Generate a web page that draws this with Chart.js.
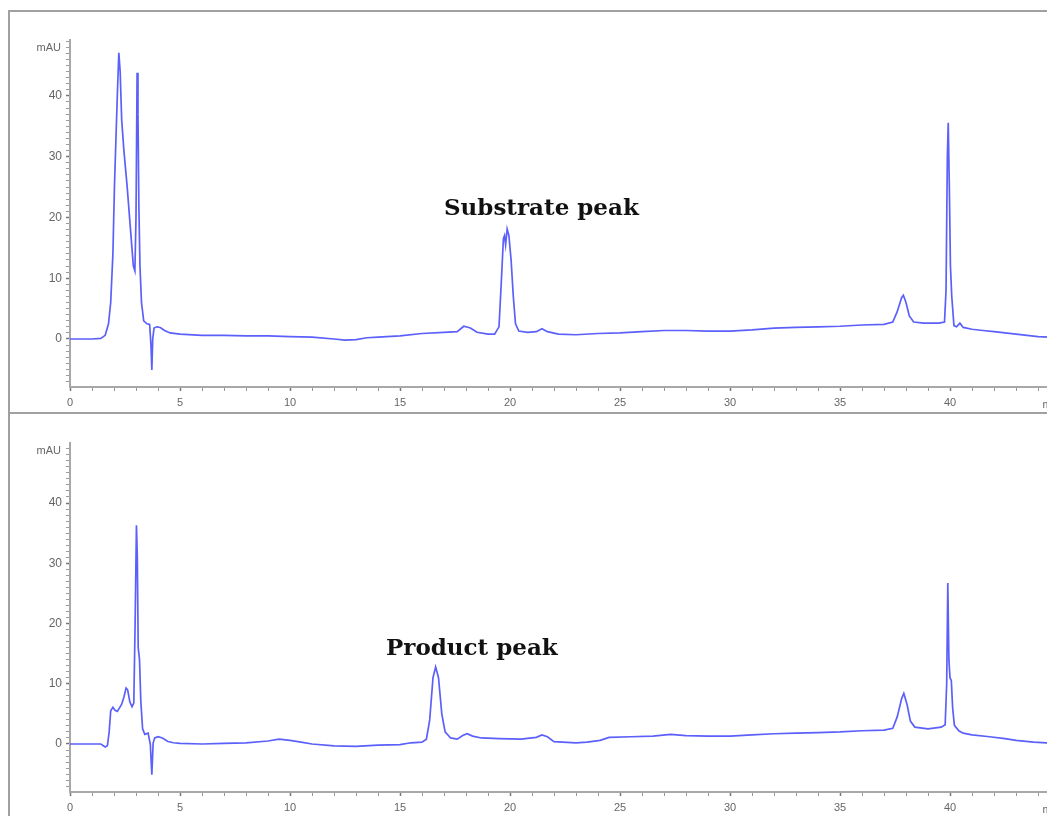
<!DOCTYPE html>
<html>
<head>
<meta charset="utf-8">
<script src="https://cdn.jsdelivr.net/npm/chart.js@4.4.1/dist/chart.umd.min.js"></script>
<style>
html,body{margin:0;padding:0;background:#fff;overflow:hidden;width:1047px;height:816px;}
#wrap{position:relative;width:1047px;height:816px;overflow:hidden;background:#fff;}
.frame{position:absolute;border:2px solid #a0a0a0;box-sizing:border-box;}
.cv{position:absolute;left:0;}
.note{position:absolute;font-family:"DejaVu Serif",serif;font-weight:bold;font-size:23px;line-height:23px;color:#111;white-space:nowrap;}
</style>
</head>
<body>
<div id="wrap">
  <div class="frame" style="left:8px;top:10px;width:1100px;height:404px;"></div>
  <div class="frame" style="left:8px;top:412px;width:1100px;height:500px;"></div>
  <div class="cv" style="top:0;"><canvas id="c1" width="1100" height="412"></canvas></div>
  <div class="cv" style="top:412px;"><canvas id="c2" width="1100" height="404"></canvas></div>
  <div class="note" style="left:444px;top:195px;">Substrate peak</div>
  <div class="note" style="left:386px;top:635px;">Product peak</div>
</div>
<script>
// ---- data (retention time in min, absorbance in mAU) ----
const topTime = [0,0.5,1.0,1.4,1.6,1.75,1.85,1.95,2.02,2.08,2.15,2.22,2.28,2.35,2.45,2.6,2.75,2.88,2.95,3.0,3.05,3.09,3.13,3.18,3.25,3.35,3.5,3.62,3.68,3.72,3.76,3.82,3.95,4.1,4.3,4.55,5.0,6.0,7.0,8.0,9.0,10.0,11.0,12.0,12.5,13.0,13.5,14.0,15.0,16.0,17.0,17.6,17.9,18.2,18.5,19.0,19.3,19.5,19.6,19.7,19.75,19.8,19.87,19.95,20.05,20.15,20.25,20.4,20.8,21.2,21.45,21.7,22.2,23.0,24.0,25.0,26.0,27.0,28.0,29.0,30.0,31.0,32.0,33.0,34.0,35.0,36.0,37.0,37.4,37.6,37.8,37.88,38.0,38.15,38.35,38.8,39.5,39.75,39.82,39.88,39.92,39.97,40.02,40.08,40.18,40.3,40.45,40.6,41.0,41.5,42.0,42.5,43.0,43.5,44.0,44.5,45.0];
const topSignal = [0,0,0,0.1,0.6,2.5,6,14,25,32,40,47.1,44,36,31,25,18,12,11.2,20,43.8,37,22,12,6,3,2.5,2.4,-1,-5.1,0,1.8,2.0,1.9,1.4,1.0,0.8,0.6,0.6,0.5,0.5,0.4,0.3,0.0,-0.2,-0.1,0.2,0.3,0.5,0.9,1.1,1.2,2.1,1.8,1.1,0.8,0.8,2,9,16.5,17.0,15.5,18.1,17,13,7,2.5,1.3,1.1,1.2,1.7,1.2,0.8,0.7,0.9,1.0,1.2,1.4,1.4,1.3,1.3,1.5,1.8,1.9,2.0,2.1,2.3,2.4,2.8,4.5,6.8,7.2,6.0,3.8,2.8,2.6,2.6,2.8,8,30,35.6,25,12,7,2.2,2.0,2.6,1.9,1.6,1.4,1.2,1.0,0.8,0.6,0.4,0.3,0.2];

const bottomTime = [0,1.0,1.4,1.6,1.7,1.78,1.85,1.95,2.05,2.15,2.25,2.35,2.45,2.55,2.62,2.72,2.82,2.9,2.96,3.02,3.06,3.1,3.16,3.22,3.3,3.4,3.55,3.65,3.72,3.78,3.85,4.0,4.2,4.45,4.7,5.0,6.0,7.0,8.0,9.0,9.5,10.0,10.5,11.0,12.0,13.0,14.0,15.0,15.5,16.0,16.2,16.35,16.5,16.62,16.75,16.9,17.05,17.3,17.6,17.85,18.05,18.3,18.7,19.5,20.5,21.2,21.45,21.7,22.0,23.0,23.5,24.1,24.5,25.5,26.5,27.3,28.0,29.0,30.0,31.0,32.0,33.0,34.0,35.0,36.0,37.0,37.4,37.6,37.8,37.9,38.05,38.2,38.4,39.0,39.6,39.78,39.85,39.9,39.95,40.0,40.06,40.12,40.2,40.4,40.6,41.0,41.8,42.5,43.0,43.8,44.4,45.0];
const bottomSignal = [0,0,0,-0.5,-0.3,2,5.5,6.1,5.6,5.4,6.0,6.6,7.8,9.3,9.0,7,6.2,6.8,20,36.3,31,16,14,7,2.5,1.6,1.8,0,-5.1,0.2,1.0,1.2,1.0,0.4,0.2,0.1,0.0,0.1,0.2,0.5,0.8,0.6,0.3,0.0,-0.3,-0.4,-0.2,-0.1,0.2,0.3,0.8,4,11,12.8,11,5,2,1.0,0.8,1.4,1.7,1.3,1.0,0.9,0.8,1.1,1.5,1.2,0.4,0.2,0.3,0.6,1.1,1.2,1.3,1.6,1.4,1.3,1.3,1.5,1.7,1.8,1.9,2.0,2.2,2.3,2.6,4.5,7.5,8.4,6.5,3.8,2.8,2.5,2.8,3.2,10,26.7,14,11,10.5,6,3.1,2.2,1.8,1.5,1.2,0.9,0.6,0.3,0.2,0.1];

const yUnit = 'mAU';
const xUnit = 'min';

// ---- chart helpers ----
const tickFont = {family: '"Liberation Sans", Arial, sans-serif', size: 11};
const lineColor = 'rgb(92,96,250)';

const unitLabels = {
  id: 'unitLabels',
  afterDraw(chart) {
    const ctx = chart.ctx, xs = chart.scales.x, ys = chart.scales.y;
    ctx.save();
    ctx.font = '11px "Liberation Sans", Arial, sans-serif';
    ctx.fillStyle = '#666';
    ctx.textAlign = 'right';
    ctx.textBaseline = 'middle';
    ctx.fillText(yUnit, ys.right - 9, chart.chartArea.top + 8);
    ctx.textAlign = 'left';
    ctx.textBaseline = 'top';
    ctx.fillText(xUnit, xs.getPixelForValue(44.2), chart.chartArea.bottom + 12);
    ctx.restore();
  }
};

function makeChart(id, times, values, yMin, yMax, padTop, xHeight) {
  const pts = times.map((t, i) => ({x: t, y: values[i]}));
  return new Chart(document.getElementById(id), {
    type: 'line',
    data: {datasets: [{data: pts, borderColor: lineColor, borderWidth: 1.7, pointRadius: 0, tension: 0, fill: false}]},
    options: {
      responsive: false,
      animation: false,
      events: [],
      layout: {padding: {left: 0, right: 40, top: padTop, bottom: 0}},
      plugins: {legend: {display: false}, tooltip: {enabled: false}},
      scales: {
        x: {
          type: 'linear', min: 0, max: 45,
          afterFit(s) { s.height = xHeight; },
          border: {color: '#a8a8a8', width: 2},
          grid: {drawOnChartArea: false, drawTicks: true, tickLength: 4,
                 tickColor: c => (c.tick && c.tick.value % 5 === 0) ? '#777' : '#999',
                 tickWidth: c => (c.tick && c.tick.value % 5 === 0) ? 1.5 : 1},
          ticks: {stepSize: 1, autoSkip: false, includeBounds: false, maxTicksLimit: 1000, maxRotation: 0,
                  padding: 5, color: '#666', font: tickFont,
                  callback: v => (v % 5 === 0 && v < 45) ? String(v) : ''}
        },
        y: {
          type: 'linear', min: yMin, max: yMax,
          afterFit(s) { s.width = 70; },
          border: {color: '#a8a8a8', width: 2},
          grid: {drawOnChartArea: false, drawTicks: true, tickLength: 4,
                 tickColor: c => (c.tick && c.tick.value % 10 === 0) ? '#777' : '#999',
                 tickWidth: c => (c.tick && c.tick.value % 10 === 0) ? 1.5 : 1},
          ticks: {stepSize: 1, autoSkip: false, includeBounds: false, maxTicksLimit: 1000,
                  padding: 4, color: '#666', font: {family: tickFont.family, size: 12},
                  callback: v => (v % 10 === 0) ? String(v) : ''}
        }
      }
    },
    plugins: [unitLabels]
  });
}

makeChart('c1', topTime, topSignal, -7.9, 49.2, 40, 25);
makeChart('c2', bottomTime, bottomSignal, -7.97, 49.96, 31, 24);
</script>
</body>
</html>
